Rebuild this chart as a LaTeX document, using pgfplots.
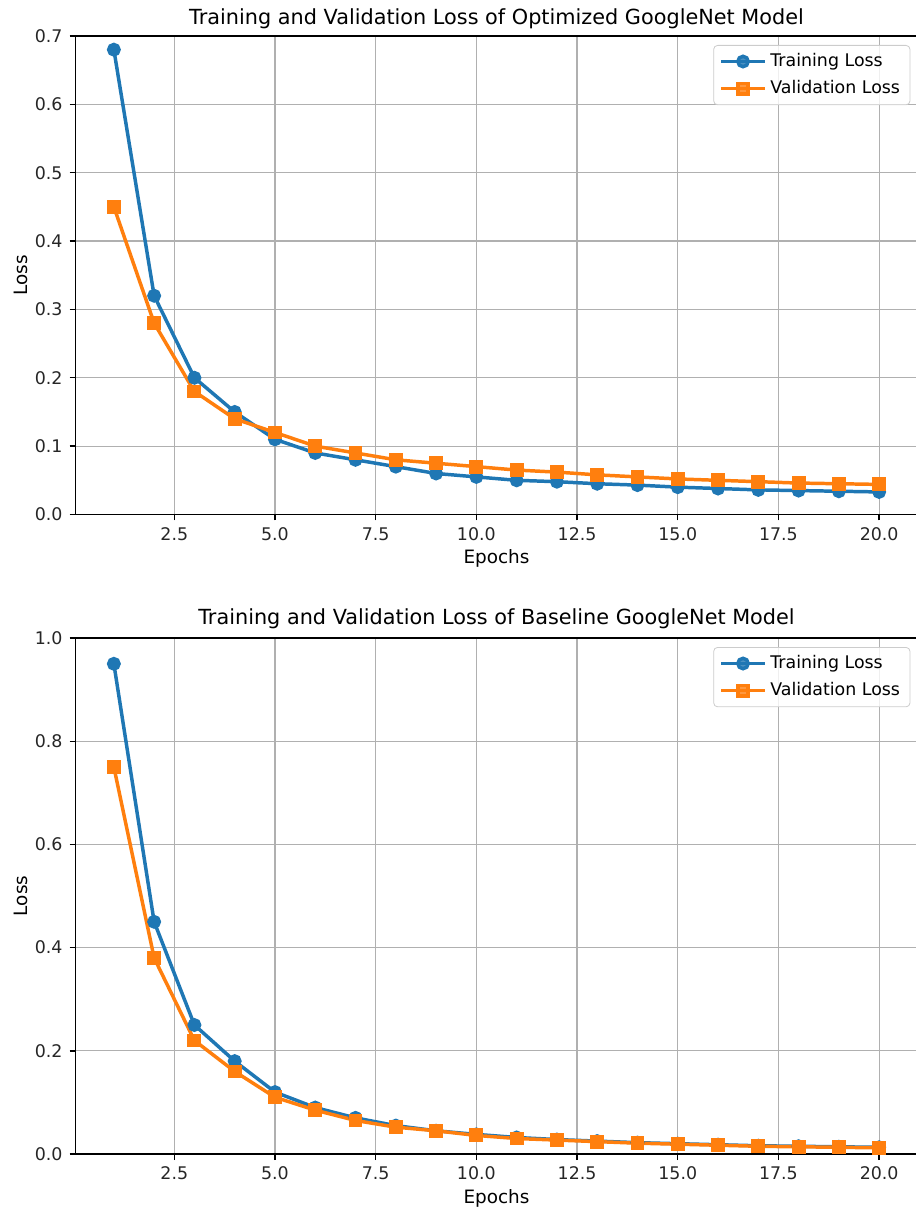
\documentclass[border=0pt]{standalone}
\usepackage{fontspec}
\setmainfont{DejaVu Sans}
\usepackage{pgfplots}
\pgfplotsset{compat=1.18}
\definecolor{tabblue}{HTML}{1F77B4}
\definecolor{taborange}{HTML}{FF7F0E}
\definecolor{gridgray}{HTML}{B0B0B0}
\definecolor{leggray}{HTML}{CCCCCC}

\pgfplotsset{
 myax/.style={
  scale only axis, width=420.9pt,
  xmin=0.05, xmax=20.95,
  xtick={2.5,5,7.5,10,12.5,15,17.5,20},
  xticklabel style={/pgf/number format/.cd, fixed, fixed zerofill, precision=1},
  yticklabel style={/pgf/number format/.cd, fixed, fixed zerofill, precision=1},
  /pgf/number format/assume math mode=true,
  tick label style={font=\fontsize{8.7}{10}\selectfont, black!85},
  label style={font=\fontsize{9.2}{11}\selectfont},
  grid=major, major grid style={color=gridgray, line width=0.6pt},
  tick align=outside, tick pos=left, major tick length=3pt,
  every tick/.style={black, line width=0.7pt},
  axis line style={line width=0.7pt},
  legend style={at={(1,1)}, anchor=north east, xshift=-3.5pt, yshift=-4.5pt,
    draw=leggray, rounded corners=2pt, fill=white, fill opacity=0.8, text opacity=1,
    font=\fontsize{8.7}{10}\selectfont, row sep=1.5pt, inner xsep=3pt, inner ysep=2pt},
  legend cell align=left,
  legend image code/.code={\draw[mark repeat=2, mark phase=2] plot coordinates {(0cm,0cm)(0.38cm,0cm)(0.76cm,0cm)};},
 },
 trn/.style={color=tabblue, line width=1.74pt, mark=*, mark size=2.6pt, mark options={solid}},
 val/.style={color=taborange, line width=1.74pt, mark=square*, mark size=2.6pt, mark options={solid}},
}

\begin{document}
\begin{tikzpicture}
\useasboundingbox (-37.8pt,18pt) rectangle (419.7pt,-588.5pt);
\begin{axis}[myax, at={(0,0)}, anchor=north west, height=239.25pt,
  ymin=0, ymax=0.7, ytick={0,0.1,...,0.7},
  title={Training and Validation Loss of Optimized GoogleNet Model},
  title style={at={(axis description cs:0.5,1)}, anchor=center, yshift=2.5pt, font=\fontsize{10.4}{12}\selectfont},
  xlabel={Epochs}, ylabel={Loss},
  xlabel style={at={(axis description cs:0.5,0)}, anchor=center, yshift=-22pt},
  ylabel style={at={(axis description cs:0,0.5)}, anchor=center, yshift=27.5pt},
]
\addplot[trn] coordinates {(1,0.68)(2,0.32)(3,0.20)(4,0.15)(5,0.11)(6,0.09)(7,0.08)(8,0.07)(9,0.06)(10,0.055)(11,0.05)(12,0.048)(13,0.045)(14,0.043)(15,0.04)(16,0.038)(17,0.036)(18,0.035)(19,0.034)(20,0.033)};
\addlegendentry{Training Loss}
\addplot[val] coordinates {(1,0.45)(2,0.28)(3,0.18)(4,0.14)(5,0.12)(6,0.10)(7,0.09)(8,0.08)(9,0.075)(10,0.07)(11,0.065)(12,0.062)(13,0.058)(14,0.055)(15,0.052)(16,0.05)(17,0.048)(18,0.046)(19,0.045)(20,0.044)};
\addlegendentry{Validation Loss}
\end{axis}
\begin{axis}[myax, at={(0,-301pt)}, anchor=north west, height=258pt,
  ymin=0, ymax=1.0, ytick={0,0.2,...,1.0},
  title={Training and Validation Loss of Baseline GoogleNet Model},
  title style={at={(axis description cs:0.5,1)}, anchor=center, yshift=3.5pt, font=\fontsize{10.4}{12}\selectfont},
  xlabel={Epochs}, ylabel={Loss},
  xlabel style={at={(axis description cs:0.5,0)}, anchor=center, yshift=-22pt},
  ylabel style={at={(axis description cs:0,0.5)}, anchor=center, yshift=27.5pt},
]
\addplot[trn] coordinates {(1,0.95)(2,0.45)(3,0.25)(4,0.18)(5,0.12)(6,0.09)(7,0.07)(8,0.055)(9,0.045)(10,0.038)(11,0.032)(12,0.028)(13,0.025)(14,0.022)(15,0.02)(16,0.018)(17,0.016)(18,0.015)(19,0.014)(20,0.013)};
\addlegendentry{Training Loss}
\addplot[val] coordinates {(1,0.75)(2,0.38)(3,0.22)(4,0.16)(5,0.11)(6,0.085)(7,0.065)(8,0.052)(9,0.045)(10,0.036)(11,0.03)(12,0.027)(13,0.024)(14,0.021)(15,0.019)(16,0.017)(17,0.015)(18,0.014)(19,0.013)(20,0.012)};
\addlegendentry{Validation Loss}
\end{axis}
\end{tikzpicture}
\end{document}
